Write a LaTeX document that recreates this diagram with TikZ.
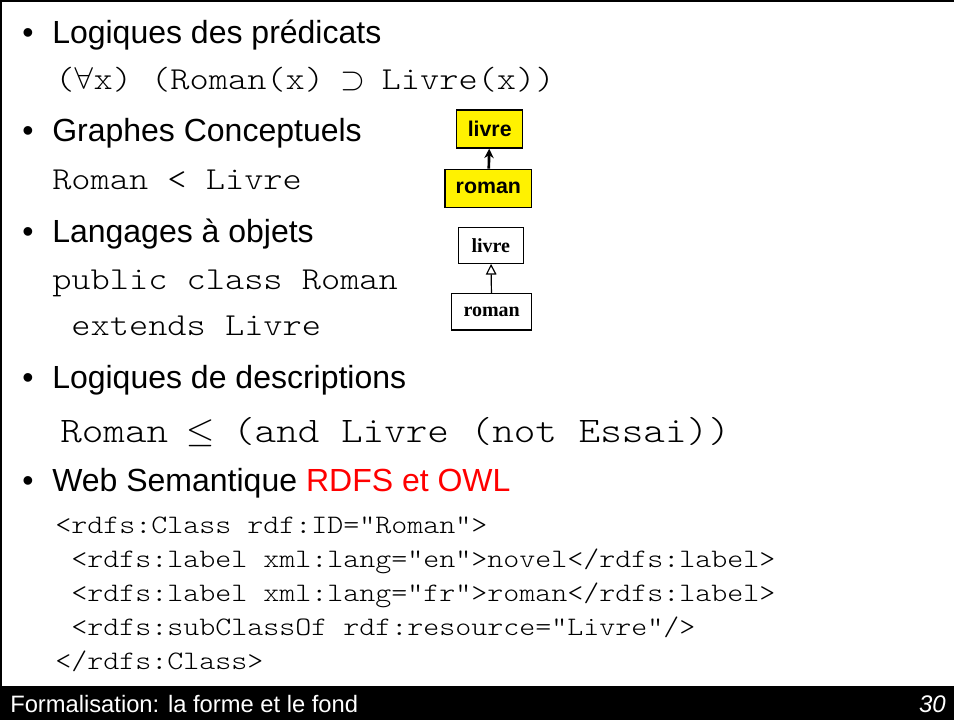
\documentclass[tikz,border=0pt]{standalone}
\usepackage{fontspec}
\setmainfont{Liberation Sans}
\setmonofont{lmmonolt10-regular.otf}[FakeStretch=1.143]
\newfontfamily\serifbf{Liberation Serif}
\newfontfamily\lmsym{latinmodern-math.otf}
\newcommand\msym[1]{\makebox[\fontcharwd\font`x]{\lmsym #1}}
\usetikzlibrary{arrows.meta}
\tikzset{
  head/.style={anchor=base west, inner sep=0pt, font=\fontsize{24}{28}\selectfont},
  bul/.style={anchor=base west, inner sep=0pt, font=\fontsize{24}{28}\selectfont},
  mono/.style={anchor=base west, inner sep=0pt, font=\ttfamily\fontsize{24}{28}\selectfont},
  monobig/.style={anchor=base west, inner sep=0pt, font=\ttfamily\fontsize{27}{30}\selectfont},
  code/.style={anchor=base west, inner sep=0pt, font=\ttfamily\fontsize{20}{24}\selectfont},
  ybox/.style={draw=black, line width=1.1pt, fill=yellow, inner sep=0pt, font=\bfseries\fontsize{16}{18}\selectfont},
  wbox/.style={draw=black, line width=0.9pt, fill=white, inner sep=0pt, font=\serifbf\bfseries\fontsize{15}{18}\selectfont},
}
\begin{document}
\begin{tikzpicture}[x=0.75pt, y=-0.75pt]
\useasboundingbox (0,0) rectangle (954,720);
% frame
\draw[line width=2pt] (1,686) -- (1,1) -- (954,1);
% footer
\fill[black] (0,686) rectangle (954,720);
\node[anchor=base west, inner sep=0pt, text=white, font=\fontsize{17.8}{20}\selectfont] (foot) at (10,712) {Formalisation: la forme et le fond};
\node[anchor=base east, inner sep=0pt, text=white, font=\itshape\fontsize{18}{20}\selectfont] (page) at (946,712) {30};

% bullets
\foreach \yy/\nm in {44/b1,142/b2,243/b3,389/b4,492/b5}
  \node[bul] (\nm) at (22,\yy) {•};

\node[head] (h1) at (52,44) {Logiques des prédicats};
\node[mono] (m1) at (55,90) {(\msym{∀}x) (Roman(x) \msym{⊃} Livre(x))};
\node[head] (h2) at (52,142) {Graphes Conceptuels};
\node[mono] (m2) at (52,190) {Roman < Livre};
\node[head] (h3) at (52,243) {Langages à objets};
\node[mono] (m3) at (52,290) {public class Roman};
\node[mono] (m4) at (52,336) {\ extends Livre};
\node[head] (h4) at (52,389) {Logiques de descriptions};
\node[monobig] (m5) at (60,442) {Roman \msym{≤} (and Livre (not Essai))};
\node[head] (h5) at (52,492) {Web Semantique \textcolor{red}{RDFS et OWL}};
\node[code] (c1) at (55,533) {<rdfs:Class rdf:ID="Roman">};
\node[code] (c2) at (55,567) {\ <rdfs:label xml:lang="en">novel</rdfs:label>};
\node[code] (c3) at (55,601) {\ <rdfs:label xml:lang="fr">roman</rdfs:label>};
\node[code] (c4) at (55,635) {\ <rdfs:subClassOf rdf:resource="Livre"/>};
\node[code] (c5) at (55,669) {</rdfs:Class>};

% conceptual graph boxes
\node[ybox, minimum width=49.5pt, minimum height=28.5pt] (ylivre) at (489.7,129) {livre};
\node[ybox, minimum width=65pt, minimum height=28.5pt] (yroman) at (488.3,188.3) {roman};
\draw[line width=2pt, -{Stealth[length=7pt, width=7pt]}] (yroman) -- (ylivre);

% UML boxes
\node[wbox, minimum width=48.75pt, minimum height=27pt] (wlivre) at (490.8,245.3) {livre};
\node[wbox, minimum width=60pt, minimum height=27.5pt] (wroman) at (491.7,311.7) {roman};
\draw[line width=0.9pt, -{Triangle[open, length=8pt, width=8pt]}] (wroman) -- (wlivre);
\end{tikzpicture}
\end{document}
